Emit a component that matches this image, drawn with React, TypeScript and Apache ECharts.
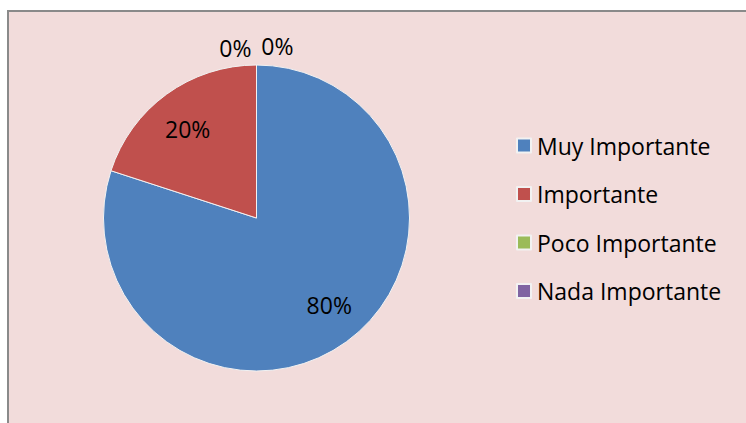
import React, { useEffect, useRef } from "react";
import * as echarts from "echarts";

const categories = ["Muy Importante", "Importante", "Poco Importante", "Nada Importante"];
const values = [80, 20, 0, 0];
const colors = ["#4F81BD", "#C0504D", "#9BBB59", "#8064A2"];

const FONT = "'Open Sans', 'Noto Sans', sans-serif";

export default function App() {
  const ref = useRef<HTMLDivElement>(null);
  useEffect(() => {
    document.body.style.margin = "0";
    const chart = echarts.init(ref.current!, null, { renderer: "svg" });
    const data = categories.map((name, i) => ({
      name,
      value: values[i],
      itemStyle: { color: colors[i] },
    }));
    chart.setOption({
      animation: false,
      backgroundColor: "#ffffff",
      graphic: [
        {
          type: "rect",
          z: -10,
          shape: { x: 8, y: 11, width: 760, height: 440 },
          style: { fill: "#F2DCDB", stroke: "#8A8A8A", lineWidth: 2 },
        },
      ],
      legend: {
        orient: "vertical",
        left: 516,
        top: 133.5,
        padding: 0,
        itemWidth: 14,
        itemHeight: 14,
        itemGap: 24.5,
        icon: "rect",
        selectedMode: false,
        data: categories,
        textStyle: {
          fontFamily: FONT,
          fontSize: 23,
          lineHeight: 24,
          color: "#000",
          padding: [0, 0, 0, 1],
        },
      },
      series: [
        {
          type: "pie",
          center: [256.5, 218],
          radius: 153,
          startAngle: 90,
          clockwise: true,
          avoidLabelOverlap: false,
          silent: true,
          itemStyle: { borderColor: "#F2F2F2", borderWidth: 1 },
          label: {
            show: true,
            position: "outside",
            formatter: (p: any) => (p.value === 0 ? p.percent + "%" : ""),
            fontFamily: FONT,
            fontSize: 23,
            color: "#000",
          },
          labelLine: { show: false, length: 0, length2: 0 },
          labelLayout: (p: any) => {
            if (p.dataIndex === 2) return { dx: 0, dy: -17 };
            if (p.dataIndex === 3) return { dx: 42, dy: -19 };
            return {};
          },
          emphasis: { disabled: true },
          data,
        },
        {
          type: "pie",
          center: [256.5, 218],
          radius: [75, 153],
          startAngle: 90,
          clockwise: true,
          silent: true,
          avoidLabelOverlap: false,
          itemStyle: { color: "transparent" },
          label: {
            show: true,
            position: "inside",
            formatter: (p: any) => (p.value === 0 ? "" : p.percent + "%"),
            fontFamily: FONT,
            fontSize: 23,
            color: "#000",
          },
          labelLayout: (p: any) => {
            if (p.dataIndex === 0) return { dx: 4, dy: -8 };
            if (p.dataIndex === 1) return { dx: 0, dy: 6 };
            return {};
          },
          labelLine: { show: false },
          emphasis: { disabled: true },
          legendHoverLink: false,
          data: categories.map((name, i) => ({ name, value: values[i], itemStyle: { color: "transparent" } })),
        },
      ],
    });
    return () => chart.dispose();
  }, []);
  return <div ref={ref} style={{ width: 746, height: 423 }} />;
}
